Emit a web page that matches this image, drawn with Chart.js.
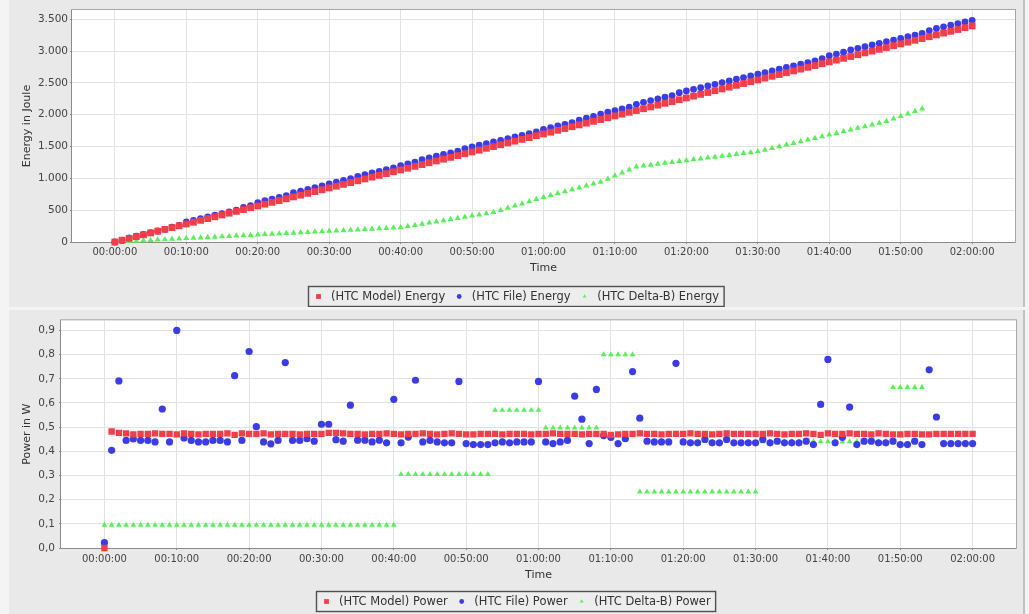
<!DOCTYPE html>
<html>
<head>
<meta charset="utf-8">
<script src="https://cdn.jsdelivr.net/npm/chart.js@4.4.1/dist/chart.umd.min.js"></script>
<style>
  html, body { margin: 0; padding: 0; width: 1029px; height: 614px; overflow: hidden; background: #f4f4f4; }
  .panel { position: absolute; left: 9px; width: 1014px; background: #e9e9e9; border-right: 2px solid #c2c2c2; }
  #p1 { top: 0; height: 307px; }
  #p2 { top: 310px; height: 304px; }
  canvas { display: block; }
</style>
</head>
<body>
<div class="panel" id="p1"><canvas id="energy" width="1014" height="307"></canvas></div>
<div class="panel" id="p2"><canvas id="power" width="1014" height="304"></canvas></div>
<script>
// time in minutes since start
const minutes = [
  0, 1, 2, 3, 4, 5, 6, 7, 8, 9,
  10, 11, 12, 13, 14, 15, 16, 17, 18, 19,
  20, 21, 22, 23, 24, 25, 26, 27, 28, 29,
  30, 31, 32, 33, 34, 35, 36, 37, 38, 39,
  40, 41, 42, 43, 44, 45, 46, 47, 48, 49,
  50, 51, 52, 53, 54, 55, 56, 57, 58, 59,
  60, 61, 62, 63, 64, 65, 66, 67, 68, 69,
  70, 71, 72, 73, 74, 75, 76, 77, 78, 79,
  80, 81, 82, 83, 84, 85, 86, 87, 88, 89,
  90, 91, 92, 93, 94, 95, 96, 97, 98, 99,
  100, 101, 102, 103, 104, 105, 106, 107, 108, 109,
  110, 111, 112, 113, 114, 115, 116, 117, 118, 119,
  120
];

const xTickMinutes = [0, 10, 20, 30, 40, 50, 60, 70, 80, 90, 100, 110, 120];
const energyTicks = [0, 500, 1000, 1500, 2000, 2500, 3000, 3500];
const powerTicks = [0, 0.1, 0.2, 0.3, 0.4, 0.5, 0.6, 0.7, 0.8, 0.9];

const modelEnergy = [
  0, 29, 57, 85, 113, 142, 170, 198, 226, 255,
  283, 311, 340, 368, 396, 425, 453, 481, 509, 538,
  566, 594, 623, 651, 679, 708, 736, 764, 792, 821,
  849, 877, 906, 934, 962, 991, 1019, 1047, 1075, 1104,
  1132, 1160, 1189, 1217, 1245, 1274, 1302, 1330, 1358, 1387,
  1415, 1443, 1472, 1500, 1528, 1557, 1585, 1613, 1641, 1670,
  1698, 1726, 1755, 1783, 1811, 1840, 1868, 1896, 1924, 1953,
  1981, 2009, 2038, 2066, 2094, 2123, 2151, 2179, 2207, 2236,
  2264, 2292, 2321, 2349, 2377, 2406, 2434, 2462, 2490, 2519,
  2547, 2575, 2604, 2632, 2660, 2689, 2717, 2745, 2773, 2802,
  2830, 2858, 2887, 2915, 2943, 2972, 3000, 3028, 3056, 3085,
  3113, 3141, 3170, 3198, 3226, 3255, 3283, 3311, 3339, 3368,
  3396
];

const fileEnergy = [
  0, 24, 66, 92, 119, 146, 173, 199, 234, 260,
  314, 341, 368, 394, 421, 447, 474, 500, 543, 570,
  619, 649, 675, 701, 728, 774, 800, 827, 854, 881,
  912, 942, 969, 996, 1031, 1058, 1085, 1111, 1138, 1164,
  1201, 1227, 1254, 1296, 1322, 1349, 1375, 1401, 1428, 1469,
  1495, 1521, 1546, 1572, 1598, 1624, 1650, 1677, 1703, 1729,
  1771, 1797, 1823, 1849, 1876, 1914, 1946, 1972, 2011, 2039,
  2066, 2092, 2119, 2163, 2195, 2222, 2248, 2275, 2301, 2347,
  2373, 2399, 2425, 2452, 2478, 2505, 2531, 2558, 2584, 2610,
  2636, 2663, 2689, 2715, 2742, 2768, 2794, 2820, 2846, 2882,
  2928, 2954, 2982, 3017, 3043, 3069, 3096, 3122, 3148, 3174,
  3200, 3226, 3252, 3278, 3322, 3355, 3381, 3407, 3432, 3458,
  3484
];

const deltaEnergy = [
  0, 6, 11, 17, 23, 29, 34, 40, 46, 51,
  57, 63, 68, 74, 80, 86, 91, 97, 103, 108,
  114, 120, 125, 131, 137, 143, 148, 154, 160, 165,
  171, 177, 182, 188, 194, 200, 205, 211, 217, 222,
  228, 246, 265, 283, 301, 320, 338, 356, 374, 393,
  411, 429, 448, 466, 500, 534, 569, 603, 637, 671,
  705, 735, 765, 795, 824, 854, 884, 914, 944, 992,
  1040, 1088, 1136, 1184, 1198, 1212, 1226, 1240, 1254, 1268,
  1282, 1296, 1309, 1323, 1337, 1351, 1365, 1379, 1393, 1407,
  1421, 1447, 1474, 1500, 1527, 1553, 1579, 1606, 1632, 1659,
  1685, 1711, 1738, 1764, 1791, 1817, 1843, 1870, 1896, 1936,
  1976, 2016, 2056, 2096
];

const modelPower = [
  0.000, 0.482, 0.476, 0.474, 0.470, 0.472, 0.472, 0.474, 0.472, 0.472,
  0.470, 0.474, 0.472, 0.470, 0.472, 0.472, 0.472, 0.474, 0.468, 0.474,
  0.472, 0.472, 0.474, 0.470, 0.472, 0.472, 0.472, 0.470, 0.472, 0.472,
  0.472, 0.476, 0.476, 0.474, 0.472, 0.472, 0.470, 0.472, 0.472, 0.474,
  0.472, 0.470, 0.472, 0.472, 0.474, 0.472, 0.470, 0.472, 0.474, 0.472,
  0.470, 0.470, 0.472, 0.472, 0.472, 0.470, 0.472, 0.472, 0.472, 0.470,
  0.472, 0.472, 0.474, 0.472, 0.472, 0.472, 0.470, 0.472, 0.472, 0.472,
  0.468, 0.470, 0.472, 0.472, 0.474, 0.472, 0.472, 0.470, 0.472, 0.472,
  0.472, 0.474, 0.472, 0.472, 0.470, 0.472, 0.474, 0.472, 0.472, 0.472,
  0.472, 0.472, 0.474, 0.472, 0.470, 0.472, 0.472, 0.474, 0.472, 0.468,
  0.474, 0.472, 0.472, 0.474, 0.472, 0.472, 0.470, 0.474, 0.472, 0.470,
  0.470, 0.472, 0.472, 0.470, 0.470, 0.472, 0.472, 0.472, 0.472, 0.472,
  0.472
];

const filePower = [
  0.022, 0.404, 0.691, 0.445, 0.451, 0.445, 0.445, 0.439, 0.575, 0.439,
  0.900, 0.455, 0.445, 0.439, 0.439, 0.445, 0.445, 0.439, 0.713, 0.445,
  0.813, 0.502, 0.439, 0.431, 0.445, 0.767, 0.445, 0.445, 0.452, 0.442,
  0.512, 0.512, 0.448, 0.442, 0.591, 0.446, 0.446, 0.439, 0.446, 0.435,
  0.615, 0.435, 0.459, 0.694, 0.439, 0.445, 0.439, 0.435, 0.435, 0.689,
  0.432, 0.428, 0.428, 0.428, 0.435, 0.439, 0.435, 0.439, 0.439, 0.439,
  0.689, 0.439, 0.432, 0.439, 0.445, 0.628, 0.533, 0.432, 0.656, 0.465,
  0.458, 0.432, 0.452, 0.730, 0.537, 0.442, 0.439, 0.439, 0.439, 0.764,
  0.439, 0.435, 0.435, 0.449, 0.435, 0.435, 0.449, 0.435, 0.435, 0.435,
  0.435, 0.449, 0.435, 0.442, 0.435, 0.435, 0.435, 0.442, 0.428, 0.594,
  0.780, 0.435, 0.458, 0.583, 0.428, 0.442, 0.442, 0.435, 0.435, 0.442,
  0.428, 0.428, 0.442, 0.428, 0.737, 0.542, 0.432, 0.432, 0.432, 0.432,
  0.432
];

const deltaPower = [
  0.095, 0.095, 0.095, 0.095, 0.095, 0.095, 0.095, 0.095, 0.095, 0.095,
  0.095, 0.095, 0.095, 0.095, 0.095, 0.095, 0.095, 0.095, 0.095, 0.095,
  0.095, 0.095, 0.095, 0.095, 0.095, 0.095, 0.095, 0.095, 0.095, 0.095,
  0.095, 0.095, 0.095, 0.095, 0.095, 0.095, 0.095, 0.095, 0.095, 0.095,
  0.095, 0.305, 0.305, 0.305, 0.305, 0.305, 0.305, 0.305, 0.305, 0.305,
  0.305, 0.305, 0.305, 0.305, 0.570, 0.570, 0.570, 0.570, 0.570, 0.570,
  0.570, 0.497, 0.497, 0.497, 0.497, 0.497, 0.497, 0.497, 0.497, 0.800,
  0.800, 0.800, 0.800, 0.800, 0.232, 0.232, 0.232, 0.232, 0.232, 0.232,
  0.232, 0.232, 0.232, 0.232, 0.232, 0.232, 0.232, 0.232, 0.232, 0.232,
  0.232, 0.440, 0.440, 0.440, 0.440, 0.440, 0.440, 0.440, 0.440, 0.440,
  0.440, 0.440, 0.440, 0.440, 0.440, 0.440, 0.440, 0.440, 0.440, 0.665,
  0.665, 0.665, 0.665, 0.665
];

const RED = '#f23e48';
const BLUE = '#3c3ce6';
const GREEN = '#58ef58';
const FONT = "'DejaVu Sans', sans-serif";

const pts = (vals) => vals.map((v, i) => ({ x: minutes[i], y: v }));

const fmtTime = (m) => {
  const h = Math.floor(m / 60), mm = m % 60;
  return String(h).padStart(2, '0') + ':' + String(mm).padStart(2, '0') + ':00';
};
const fmtJoule = (v) => v >= 1000 ? Math.floor(v / 1000) + '.' + String(v % 1000).padStart(3, '0') : String(v);
const fmtWatt = (v) => v.toFixed(1).replace('.', ',');

// white plot, grey frame and the boxed legend of the original
const frame = {
  id: 'frame',
  beforeDraw(chart) {
    const { ctx, chartArea: a } = chart;
    ctx.save();
    ctx.fillStyle = '#e9e9e9';
    ctx.fillRect(0, 0, chart.width, chart.height);
    ctx.fillStyle = '#ffffff';
    ctx.fillRect(a.left, a.top, a.right - a.left, a.bottom - a.top);
    ctx.restore();
  },
  beforeDatasetsDraw(chart) {
    const { ctx, chartArea: a } = chart;
    ctx.save();
    ctx.strokeStyle = '#a8a8a8';
    ctx.lineWidth = 1;
    ctx.strokeRect(a.left - 0.5, a.top - 0.5, a.right - a.left + 1, a.bottom - a.top + 1);
    ctx.strokeStyle = '#8a8a8a';
    ctx.beginPath();
    ctx.moveTo(a.left - 0.5, a.top);
    ctx.lineTo(a.left - 0.5, a.bottom + 0.5);
    ctx.lineTo(a.right, a.bottom + 0.5);
    ctx.stroke();
    ctx.restore();
  },
  afterDraw(chart, args, opts) {
    const ctx = chart.ctx;
    ctx.save();
    ctx.font = '11.5px ' + FONT;
    const items = chart.data.datasets.map(d => ({
      text: d.label, color: d.backgroundColor, style: d.pointStyle,
      r: d.legendRadius, w: ctx.measureText(d.label).width
    }));
    const markGap = 12.6, itemGap = 14, padL = 10, padR = 5;
    let total = padL + padR + itemGap * (items.length - 1);
    items.forEach(it => { total += markGap + it.w; });
    const x0 = Math.round((chart.width - total) / 2) + 0.5;
    const y0 = opts.top + 0.5, h = opts.height;
    ctx.fillStyle = '#ededed';
    ctx.fillRect(x0, y0, total, h);
    ctx.strokeStyle = '#505050';
    ctx.lineWidth = 1.4;
    ctx.strokeRect(x0, y0, total, h);
    const cy = y0 + h / 2;
    let x = x0 + padL;
    items.forEach((it) => {
      ctx.fillStyle = it.color;
      Chart.helpers.drawPoint(ctx, { pointStyle: it.style, radius: it.r, rotation: 0, borderWidth: 0 }, x, cy);
      ctx.fillStyle = '#333';
      ctx.textBaseline = 'middle';
      ctx.textAlign = 'left';
      ctx.fillText(it.text, x + markGap, cy + 0.5);
      x += markGap + it.w + itemGap;
    });
    ctx.restore();
  }
};

function makeOptions(c) {
  return {
    responsive: false,
    animation: false,
    events: [],
    layout: { padding: { top: c.padTop, right: c.padRight, bottom: c.padBottom, left: 0 } },
    plugins: {
      legend: { display: false },
      tooltip: { enabled: false },
      frame: { top: c.legendTop, height: c.legendHeight }
    },
    scales: {
      x: {
        type: 'linear',
        min: -6,
        max: 126,
        afterBuildTicks: (s) => { s.ticks = xTickMinutes.map(v => ({ value: v })); },
        afterFit: (s) => { s.height = c.xAxisHeight; },
        ticks: { callback: fmtTime, font: { family: FONT, size: 10 }, color: '#444', padding: c.xTickPad, maxRotation: 0, autoSkip: false },
        grid: { color: '#e2e2e2', tickLength: 2, tickColor: '#888' },
        border: { display: false },
        title: { display: true, text: 'Time', font: { family: FONT, size: 11 }, color: '#333', padding: { top: 0, bottom: 0 } }
      },
      y: {
        type: 'linear',
        min: 0,
        max: c.yMax,
        afterBuildTicks: (s) => { s.ticks = c.yTicks.map(v => ({ value: v })); },
        afterFit: (s) => { s.width = c.yAxisWidth; },
        ticks: { callback: c.yFormat, font: { family: FONT, size: 10.5 }, color: '#444', padding: c.yTickPad },
        grid: { color: '#e2e2e2', tickLength: 2, tickColor: '#888' },
        border: { display: false },
        title: { display: true, text: c.yTitle, font: { family: FONT, size: 11 }, color: '#333', padding: { top: 12, bottom: 0 } }
      }
    }
  };
}

function series(label, vals, color, style, radius, legendRadius) {
  return {
    label: label,
    data: pts(vals),
    backgroundColor: color,
    pointBackgroundColor: color,
    pointStyle: style,
    pointRadius: radius,
    pointBorderWidth: 0,
    legendRadius: legendRadius,
    showLine: false,
    clip: 8
  };
}

new Chart(document.getElementById('energy'), {
  type: 'scatter',
  data: {
    datasets: [
      series('(HTC Model) Energy', modelEnergy, RED, 'rect', 4.8, 3.4),
      series('(HTC File) Energy', fileEnergy, BLUE, 'circle', 3.4, 2.4),
      series('(HTC Delta-B) Energy', deltaEnergy, GREEN, 'triangle', 3.5, 2.2)
    ]
  },
  options: makeOptions({
    padTop: 10, padRight: 8, padBottom: 32, xAxisHeight: 33, yAxisWidth: 63,
    xTickPad: 2, yTickPad: 2, yMax: 3646, yTicks: energyTicks, yFormat: fmtJoule,
    yTitle: 'Energy in Joule', legendTop: 286, legendHeight: 20
  }),
  plugins: [frame]
});

new Chart(document.getElementById('power'), {
  type: 'scatter',
  data: {
    datasets: [
      series('(HTC Model) Power', modelPower, RED, 'rect', 4.5, 3.4),
      series('(HTC File) Power', filePower, BLUE, 'circle', 3.6, 2.4),
      series('(HTC Delta-B) Power', deltaPower, GREEN, 'triangle', 3.3, 2.2)
    ]
  },
  options: makeOptions({
    padTop: 7, padRight: 7, padBottom: 32, xAxisHeight: 34, yAxisWidth: 52,
    xTickPad: 3, yTickPad: 4, yMax: 0.942, yTicks: powerTicks, yFormat: fmtWatt,
    yTitle: 'Power in W', legendTop: 281, legendHeight: 20
  }),
  plugins: [frame]
});
</script>
</body>
</html>
